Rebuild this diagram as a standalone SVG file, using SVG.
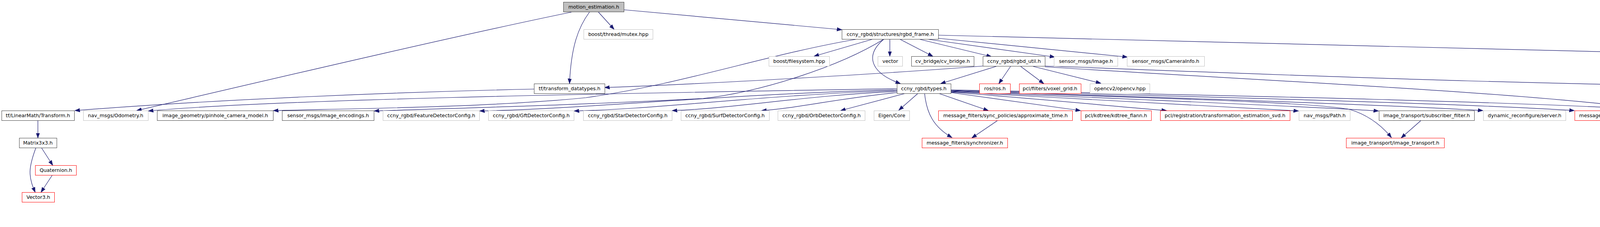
<svg xmlns="http://www.w3.org/2000/svg" width="5723" height="581" viewBox="0 0 5723 581">
<style>
.nd rect{fill:#ffffff;stroke:#404040;stroke-width:1}
.nd.g rect{stroke:#bfbfbf}
.nd.r rect{stroke:#ff0000}
.nd.me rect{fill:#bfbfbf;stroke:#404040}
.nd text{font-family:"DejaVu Sans","Liberation Sans",sans-serif;font-size:12.7px;text-anchor:middle;fill:#000000}
#edges path{fill:none;stroke:#191970;stroke-width:1.2;marker-end:url(#a)}
</style>
<defs>
<marker id="a" markerWidth="14" markerHeight="11" refX="12.5" refY="5" orient="auto" markerUnits="userSpaceOnUse">
<path d="M0,0.5 L12.5,5 L0,9.5 z" fill="#191970" stroke="#191970" stroke-width="1"/>
</marker>
</defs>
<rect width="5723" height="581" fill="#ffffff"/>
<g id="edges">
<path d="M1509,31 C1480,70 1462,120 1458,214"/>
<path d="M1532,31 L1572,75"/>
<path d="M1597,25 L2155,76"/>
<path d="M1463,31 C1150,95 600,225 350,283"/>
<path d="M2235,100 L2084,144"/>
<path d="M2278,100 L2278,144"/>
<path d="M2303,100 L2388,144"/>
<path d="M2352,100 L2538,145"/>
<path d="M2372,100 L2700,146"/>
<path d="M2402,98 L2886,146"/>
<path d="M2402,90 L5013,155"/>
<path d="M2263,100 C2215,140 2225,185 2305,214"/>
<path d="M2195,100 C1960,140 1750,215 1500,250 C1250,275 900,278 700,283"/>
<path d="M2263,100 C2150,170 1950,235 1800,252 C1500,268 1200,276 958,284"/>
<path d="M1367,228 C1000,236 550,255 192,283"/>
<path d="M2296,227 C1500,240 700,255 380,284"/>
<path d="M2296,230 C1868,240 1494,279 1228,284"/>
<path d="M2296,232 C1965,242 1676,280 1470,284"/>
<path d="M2296,234 C2066,244 1864,279 1721,283"/>
<path d="M2296,237 C2157,250 2035,278 1950,283"/>
<path d="M2318,239 L2152,283"/>
<path d="M2350,239 L2301,282"/>
<path d="M2403,239 L2530,283"/>
<path d="M2367,239 C2372,290 2390,325 2437,352"/>
<path d="M2553,309 L2488,353"/>
<path d="M2434,237 L2766,283"/>
<path d="M2434,236 C2650,252 2850,272 2986,283"/>
<path d="M2434,235 C2750,252 3150,275 3324,284"/>
<path d="M2434,234 C2850,252 3300,270 3529,284"/>
<path d="M2434,233 C2900,250 3350,260 3455,280 C3505,295 3540,325 3562,352"/>
<path d="M2434,232 C3000,250 3550,268 3796,283"/>
<path d="M2434,231 C3100,248 3750,265 4030,283"/>
<path d="M2434,230 C3200,245 3950,262 4257,283"/>
<path d="M2553,169 L2408,214"/>
<path d="M2587,170 L2557,214"/>
<path d="M2613,170 L2672,214"/>
<path d="M2645,170 L2818,213"/>
<path d="M2517,169 C2250,190 1800,215 1548,224"/>
<path d="M2675,169 C3150,186 3900,220 4811,226"/>
<path d="M2675,171 C3200,205 3900,235 4251,283"/>
<path d="M4811,232 C4700,243 4500,260 4460,280 C4430,295 4427,320 4427,353"/>
<path d="M4813,239 L4606,283"/>
<path d="M4850,239 L4748,283"/>
<path d="M4876,239 L4876,283"/>
<path d="M4913,239 L5046,283"/>
<path d="M4895,239 C4950,280 5040,330 5130,353"/>
<path d="M4940,238 L5189,283"/>
<path d="M4343,309 L4409,353"/>
<path d="M4389,303 C4600,322 4900,348 5109,360"/>
<path d="M4523,309 L4448,353"/>
<path d="M5033,169 L4913,214"/>
<path d="M5105,169 L5224,214"/>
<path d="M5125,165 L5481,218"/>
<path d="M5258,239 L5258,283"/>
<path d="M5288,239 L5398,283"/>
<path d="M5531,239 C5531,280 5520,305 5480,320 C5400,345 5300,355 5235,362"/>
<path d="M5548,239 L5612,284"/>
<path d="M5242,309 L5188,353"/>
<path d="M5382,309 L5220,353"/>
<path d="M5103,309 L5160,353"/>
<path d="M3637,309 L3587,353"/>
<path d="M97,308 L97,353"/>
<path d="M106,378 L135,423"/>
<path d="M92,378 C80,410 76,430 77,445 C78,465 85,480 90,492"/>
<path d="M134,448 L105,492"/>
</g>
<g id="motion_estimation" class="nd me"><rect x="1442.5" y="5.5" width="155" height="25"/><text x="1520" y="22">motion_estimation.h</text></g>
<g id="mutex" class="nd g"><rect x="1494.5" y="75.5" width="177" height="25"/><text x="1583" y="92">boost/thread/mutex.hpp</text></g>
<g id="rgbd_frame" class="nd"><rect x="2155.5" y="75.5" width="247" height="25"/><text x="2279" y="92">ccny_rgbd/structures/rgbd_frame.h</text></g>
<g id="filesystem" class="nd g"><rect x="1968.5" y="144.5" width="155" height="25"/><text x="2046" y="161">boost/filesystem.hpp</text></g>
<g id="vector" class="nd g"><rect x="2247.5" y="144.5" width="63" height="25"/><text x="2279" y="161">vector</text></g>
<g id="cv_bridge" class="nd"><rect x="2333.5" y="144.5" width="160" height="25"/><text x="2413" y="161">cv_bridge/cv_bridge.h</text></g>
<g id="rgbd_util" class="nd"><rect x="2516.5" y="144.5" width="159" height="25"/><text x="2596" y="161">ccny_rgbd/rgbd_util.h</text></g>
<g id="image" class="nd g"><rect x="2698.5" y="144.5" width="163" height="25"/><text x="2780" y="161">sensor_msgs/Image.h</text></g>
<g id="camerainfo" class="nd g"><rect x="2885.5" y="144.5" width="198" height="25"/><text x="2984" y="161">sensor_msgs/CameraInfo.h</text></g>
<g id="pcd_io" class="nd"><rect x="5013.5" y="144.5" width="112" height="25"/><text x="5069" y="161">pcl/io/pcd_io.h</text></g>
<g id="transform_datatypes" class="nd"><rect x="1367.5" y="214.5" width="181" height="25"/><text x="1458" y="231">tf/transform_datatypes.h</text></g>
<g id="types" class="nd"><rect x="2296.5" y="214.5" width="138" height="25"/><text x="2365" y="231">ccny_rgbd/types.h</text></g>
<g id="ros" class="nd r"><rect x="2507.5" y="214.5" width="79" height="25"/><text x="2547" y="231">ros/ros.h</text></g>
<g id="voxel_grid" class="nd r"><rect x="2609.5" y="214.5" width="158" height="25"/><text x="2688" y="231">pcl/filters/voxel_grid.h</text></g>
<g id="opencv" class="nd g"><rect x="2790.5" y="214.5" width="153" height="25"/><text x="2867" y="231">opencv2/opencv.hpp</text></g>
<g id="point_cloud" class="nd"><rect x="4811.5" y="214.5" width="129" height="25"/><text x="4876" y="231">pcl/point_cloud.h</text></g>
<g id="pcd_io_hpp" class="nd r"><rect x="5182.5" y="214.5" width="151" height="25"/><text x="5258" y="231">pcl/io/impl/pcd_io.hpp</text></g>
<g id="file_io" class="nd"><rect x="5480.5" y="214.5" width="101" height="25"/><text x="5531" y="231">pcl/io/file_io.h</text></g>
<g id="transform" class="nd"><rect x="4.5" y="283.5" width="186" height="25"/><text x="97" y="300">tf/LinearMath/Transform.h</text></g>
<g id="odometry" class="nd g"><rect x="213.5" y="283.5" width="166" height="25"/><text x="296" y="300">nav_msgs/Odometry.h</text></g>
<g id="pinhole" class="nd"><rect x="402.5" y="283.5" width="297" height="25"/><text x="551" y="300">image_geometry/pinhole_camera_model.h</text></g>
<g id="image_encodings" class="nd"><rect x="722.5" y="283.5" width="235" height="25"/><text x="840" y="300">sensor_msgs/image_encodings.h</text></g>
<g id="feature_cfg" class="nd g"><rect x="980.5" y="283.5" width="247" height="25"/><text x="1104" y="300">ccny_rgbd/FeatureDetectorConfig.h</text></g>
<g id="gft_cfg" class="nd g"><rect x="1250.5" y="283.5" width="219" height="25"/><text x="1360" y="300">ccny_rgbd/GftDetectorConfig.h</text></g>
<g id="star_cfg" class="nd g"><rect x="1493.5" y="283.5" width="227" height="25"/><text x="1607" y="300">ccny_rgbd/StarDetectorConfig.h</text></g>
<g id="surf_cfg" class="nd g"><rect x="1743.5" y="283.5" width="226" height="25"/><text x="1856" y="300">ccny_rgbd/SurfDetectorConfig.h</text></g>
<g id="orb_cfg" class="nd g"><rect x="1991.5" y="283.5" width="223" height="25"/><text x="2103" y="300">ccny_rgbd/OrbDetectorConfig.h</text></g>
<g id="eigen_core" class="nd g"><rect x="2237.5" y="283.5" width="91" height="25"/><text x="2283" y="300">Eigen/Core</text></g>
<g id="approx_time" class="nd r"><rect x="2402.5" y="283.5" width="343" height="25"/><text x="2574" y="300">message_filters/sync_policies/approximate_time.h</text></g>
<g id="kdtree" class="nd r"><rect x="2767.5" y="283.5" width="180" height="25"/><text x="2857" y="300">pcl/kdtree/kdtree_flann.h</text></g>
<g id="svd" class="nd r"><rect x="2970.5" y="283.5" width="332" height="25"/><text x="3136" y="300">pcl/registration/transformation_estimation_svd.h</text></g>
<g id="path" class="nd g"><rect x="3325.5" y="283.5" width="131" height="25"/><text x="3391" y="300">nav_msgs/Path.h</text></g>
<g id="subscriber_filter" class="nd"><rect x="3530.5" y="283.5" width="244" height="25"/><text x="3652" y="300">image_transport/subscriber_filter.h</text></g>
<g id="dyn_server" class="nd g"><rect x="3797.5" y="283.5" width="211" height="25"/><text x="3903" y="300">dynamic_reconfigure/server.h</text></g>
<g id="msg_subscriber" class="nd r"><rect x="4031.5" y="283.5" width="204" height="25"/><text x="4133" y="300">message_filters/subscriber.h</text></g>
<g id="point_types" class="nd r"><rect x="4258.5" y="283.5" width="131" height="25"/><text x="4324" y="300">pcl/point_types.h</text></g>
<g id="cloud_properties" class="nd"><rect x="4464.5" y="283.5" width="163" height="25"/><text x="4546" y="300">pcl/cloud_properties.h</text></g>
<g id="point_traits" class="nd"><rect x="4650.5" y="283.5" width="129" height="25"/><text x="4715" y="300">pcl/point_traits.h</text></g>
<g id="for_each_type" class="nd"><rect x="4802.5" y="283.5" width="147" height="25"/><text x="4876" y="300">pcl/for_each_type.h</text></g>
<g id="exceptions" class="nd"><rect x="5023.5" y="283.5" width="126" height="25"/><text x="5086" y="300">pcl/exceptions.h</text></g>
<g id="channel_properties" class="nd"><rect x="5173.5" y="283.5" width="169" height="25"/><text x="5258" y="300">pcl/channel_properties.h</text></g>
<g id="print" class="nd"><rect x="5364.5" y="283.5" width="132" height="25"/><text x="5430" y="300">pcl/console/print.h</text></g>
<g id="common_io" class="nd r"><rect x="5566.5" y="283.5" width="122" height="25"/><text x="5627" y="300">pcl/common/io.h</text></g>
<g id="matrix3x3" class="nd"><rect x="49.5" y="353.5" width="96" height="25"/><text x="97" y="370">Matrix3x3.h</text></g>
<g id="synchronizer" class="nd r"><rect x="2360.5" y="353.5" width="219" height="25"/><text x="2470" y="370">message_filters/synchronizer.h</text></g>
<g id="image_transport" class="nd r"><rect x="3446.5" y="353.5" width="251" height="25"/><text x="3572" y="370">image_transport/image_transport.h</text></g>
<g id="common_eigen" class="nd r"><rect x="4350.5" y="353.5" width="153" height="25"/><text x="4427" y="370">pcl/common/eigen.h</text></g>
<g id="pcl_macros" class="nd"><rect x="5109.5" y="353.5" width="126" height="25"/><text x="5172" y="370">pcl/pcl_macros.h</text></g>
<g id="quaternion" class="nd r"><rect x="90.5" y="423.5" width="105" height="25"/><text x="143" y="440">Quaternion.h</text></g>
<g id="vector3" class="nd r"><rect x="56.5" y="492.5" width="83" height="25"/><text x="98" y="509">Vector3.h</text></g>
</svg>
